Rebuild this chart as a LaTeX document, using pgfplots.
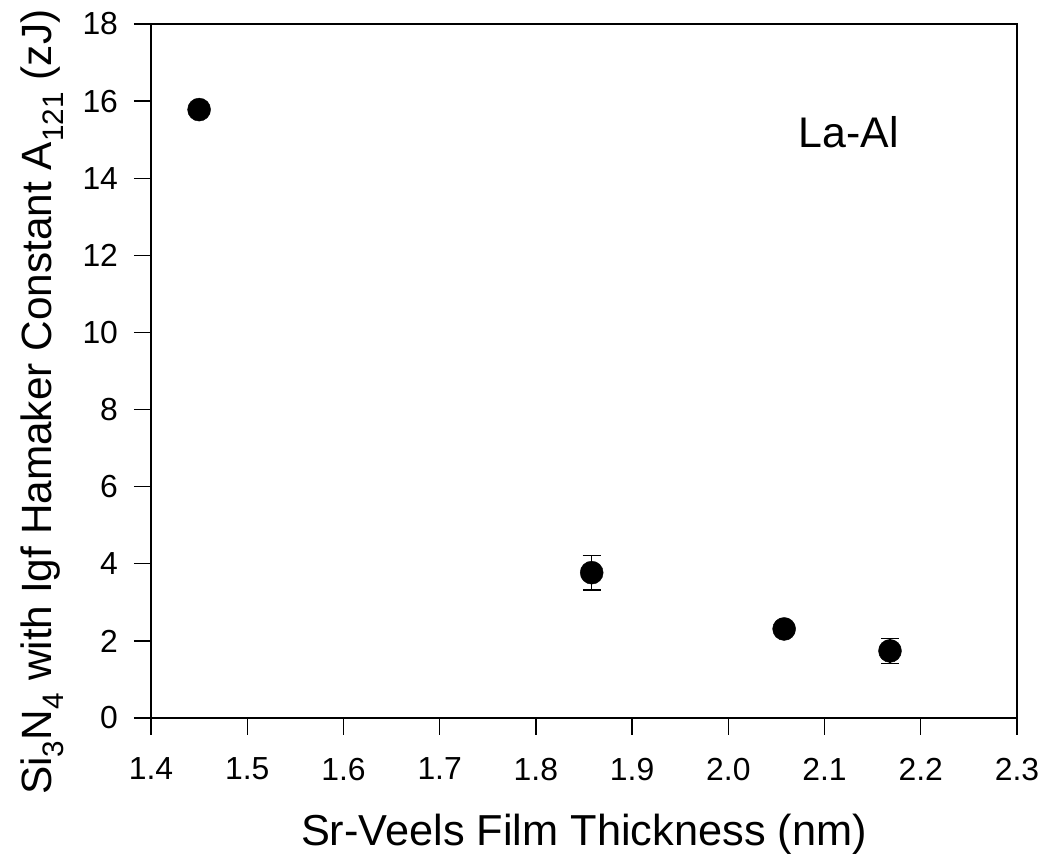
\documentclass[border=0pt]{standalone}
\usepackage{pgfplots}
\pgfplotsset{compat=1.18}
\usepackage{fontspec}
\setmainfont{Liberation Sans}
\begin{document}
\begin{tikzpicture}[x=1bp,y=1bp]
\begin{axis}[
  at={(0,0)}, anchor=origin,
  scale only axis,
  width=866bp, height=694bp,
  xmin=1.4, xmax=2.3, ymin=0, ymax=18,
  xtick={1.4,1.5,...,2.3},
  ytick={0,2,...,18},
  axis line style={line width=1.3bp},
  tick style={line width=1.3bp, black},
  tick align=outside,
  major tick length=17bp,
  xtick pos=bottom, ytick pos=left,
  /pgf/number format/assume math mode=true,
  xticklabel style={/pgf/number format/fixed, /pgf/number format/fixed zerofill, /pgf/number format/precision=1, yshift=-19.5bp},
  ticklabel style={font=\fontsize{32}{38}\selectfont},
  yticklabel style={xshift=-12.5bp},
  xlabel={Sr-Veels Film Thickness (nm)},
  ylabel={Si\textsubscript{3}N\textsubscript{4} with Igf Hamaker Constant A\textsubscript{121} (zJ)},
  xlabel style={font=\fontsize{43.5}{52}\selectfont, yshift=-27bp},
  every axis y label/.append style={at={(ticklabel cs:0.455)}},
  ylabel style={font=\fontsize{42.5}{52}\selectfont, yshift=12bp},
  clip=false,
]
\addplot[only marks, mark=*, mark size=11.5bp, black,
  error bars/.cd, y dir=both, y explicit,
  error bar style={line width=1.3bp, black},
  error mark options={rotate=90, mark size=9bp, line width=1.3bp, black}]
  coordinates {
  (1.45,15.78) +- (0,0)
  (1.858,3.77) +- (0,0.45)
  (2.058,2.31) +- (0,0)
  (2.168,1.74) +- (0,0.32)
};
\node[font=\fontsize{43}{50}\selectfont] at (axis cs:2.125,15.2) {La-Al};
\end{axis}
\pgfresetboundingbox
\path (-151bp,-139bp) rectangle (890bp,718bp);
\end{tikzpicture}
\end{document}
